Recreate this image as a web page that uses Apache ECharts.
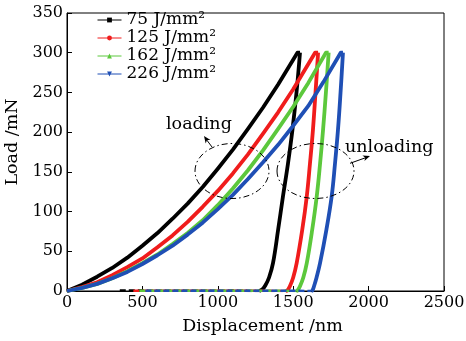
<!DOCTYPE html>
<html>
<head>
<meta charset="utf-8">
<script src="https://cdn.jsdelivr.net/npm/echarts@6/dist/echarts.min.js"></script>
<style>
	html, body { margin: 0; padding: 0; background: #fff; }
	#chart { width: 466px; height: 341px; }
</style>
</head>
<body>
<div id="chart"></div>
<script>
// energy densities (legend)
const energyNames = ["75 J/mm²", "125 J/mm²", "162 J/mm²", "226 J/mm²"];

// x ticks / y ticks
const xTicks = [0, 500, 1000, 1500, 2000, 2500];
const yTicks = [0, 50, 100, 150, 200, 250, 300, 350];

// loading branches [displacement nm, load mN]
const load75 = [[0, 0], [100, 8], [200, 18], [300, 29], [400, 42], [500, 57], [600, 73], [700, 91], [800, 110], [900, 131], [1000, 154], [1100, 178], [1200, 204], [1300, 231], [1400, 260], [1528, 300], [1545, 300]];
const load125 = [[0, 0], [100, 5], [200, 11], [300, 20], [400, 30], [500, 41], [600, 55], [700, 70], [800, 87], [900, 106], [1000, 126], [1100, 148], [1200, 172], [1300, 198], [1400, 225], [1500, 254], [1645, 300], [1665, 300]];
const load162 = [[0, 0], [100, 4], [200, 9], [300, 16], [400, 25], [500, 35], [600, 46], [700, 59], [800, 73], [900, 89], [1000, 108], [1100, 129], [1200, 152], [1300, 177], [1400, 204], [1500, 232], [1600, 262], [1717, 300], [1735, 300]];
const load226 = [[0, 0], [100, 4], [200, 9], [300, 16], [400, 24], [500, 34], [600, 45], [700, 57], [800, 71], [900, 86], [1000, 103], [1100, 121], [1200, 141], [1300, 162], [1400, 184], [1500, 208], [1600, 233], [1700, 263], [1815, 300], [1830, 300]];

// unloading branches
const unload75 = [[1545, 300], [1522, 250], [1495, 203], [1465, 160], [1432, 119], [1400, 77], [1366, 35], [1340, 17], [1315, 7], [1295, 2], [1275, 0]];
const unload125 = [[1665, 300], [1648, 250], [1631, 203], [1611, 160], [1590, 119], [1560, 77], [1523, 35], [1500, 17], [1478, 6], [1462, 1], [1450, 0]];
const unload162 = [[1735, 300], [1717, 250], [1698, 203], [1678, 160], [1656, 119], [1626, 77], [1590, 35], [1567, 17], [1545, 6], [1530, 1], [1520, 0]];
const unload226 = [[1830, 300], [1814, 250], [1797, 203], [1777, 160], [1755, 119], [1720, 77], [1678, 35], [1655, 17], [1638, 6], [1628, 1], [1620, 0]];

// tip retraction at zero load
const zero75 = [[350, 0.5], [500, 0.5], [700, 0.3], [900, 0.3], [1100, 0.5], [1275, 0]];
const zero125 = [[440, 0.3], [700, 0.3], [1000, 0.3], [1300, 0.3], [1450, 0]];
const zero162 = [[480, 0.3], [800, 0.3], [1100, 0.3], [1400, 0.3], [1520, 0]];
const zero226 = [[520, 0.3], [900, 0.3], [1200, 0.3], [1500, 0.3], [1620, 0]];

const loadings = [load75, load125, load162, load226];
const unloadings = [unload75, unload125, unload162, unload226];
const zeros = [zero75, zero125, zero162, zero226];

const colors = ["#000000", "#f01c1c", "#5cc83c", "#1f4fb5"];
const symbols = ["rect", "circle", "triangle", "triangle"];
const rotates = [0, 0, 0, 180];
const FONT = "DejaVu Serif";

const chart = echarts.init(document.getElementById("chart"));

function makeSeries() {
	const out = [];
	energyNames.forEach((name, i) => {
		const base = {
			name,
			type: "line",
			symbol: symbols[i],
			symbolRotate: rotates[i],
			symbolSize: 5,
			showSymbol: false,
			silent: true,
			animation: false,
			itemStyle: { color: colors[i] },
			lineStyle: { color: colors[i], width: 3.8, join: "round" },
			z: 2 + i
		};
		out.push({ ...base, data: loadings[i], smooth: false });
		out.push({ ...base, data: unloadings[i], smooth: 0.4 });
		out.push({ ...base, data: zeros[i], lineStyle: { color: colors[i], width: 2.5, type: [6, 3] } });
	});
	return out;
}

const dashDot = [6, 3, 1.5, 3];

const option = {
	animation: false,
	grid: {
		left: 67, right: 22, top: 13, bottom: 50,
		outerBoundsMode: "none",
		show: true, borderColor: "#000", borderWidth: 1
	},
	legend: {
		data: energyNames,
		orient: "vertical",
		left: 92,
		top: 6,
		itemWidth: 24,
		itemHeight: 6,
		itemGap: 0,
		selectedMode: false,
		lineStyle: { width: 1 },
		textStyle: { fontFamily: FONT, fontSize: 17, color: "#000", lineHeight: 18, height: 18 }
	},
	xAxis: {
		type: "value",
		min: xTicks[0],
		max: xTicks[xTicks.length - 1],
		interval: 500,
		name: "Displacement /nm",
		nameLocation: "middle",
		nameGap: 26,
		nameTextStyle: { fontFamily: FONT, fontSize: 17.5, color: "#000", padding: [0, 0, 0, 14] },
		axisLine: { lineStyle: { color: "#000", width: 1 } },
		axisTick: { inside: true, length: 5, lineStyle: { color: "#000" } },
		axisLabel: { fontFamily: FONT, fontSize: 16, color: "#000", margin: 4, formatter: v => String(v) },
		splitLine: { show: false }
	},
	yAxis: {
		type: "value",
		min: yTicks[0],
		max: yTicks[yTicks.length - 1],
		interval: 50,
		name: "Load /mN",
		nameLocation: "middle",
		nameGap: 44,
		nameTextStyle: { fontFamily: FONT, fontSize: 17.5, color: "#000", padding: [0, 0, 0, 20] },
		axisLine: { lineStyle: { color: "#000", width: 1 } },
		axisTick: { inside: true, length: 5, lineStyle: { color: "#000" } },
		axisLabel: { fontFamily: FONT, fontSize: 16, color: "#000", margin: 4, formatter: v => String(v) },
		splitLine: { show: false }
	},
	graphic: [
		{ type: "ellipse", shape: { cx: 232, cy: 171, rx: 37, ry: 27.5 }, style: { fill: "none", stroke: "#000", lineWidth: 1, lineDash: dashDot }, z: 10 },
		{ type: "ellipse", shape: { cx: 315.5, cy: 171, rx: 38.5, ry: 27.5 }, style: { fill: "none", stroke: "#000", lineWidth: 1, lineDash: dashDot }, z: 10 },
		{ type: "line", shape: { x1: 212, y1: 147, x2: 206, y2: 139 }, style: { stroke: "#000", lineWidth: 1 }, z: 10 },
		{ type: "polygon", shape: { points: [[204, 136], [210.5, 139.9], [207, 140], [205.7, 143.5]] }, style: { fill: "#000" }, z: 10 },
		{ type: "line", shape: { x1: 350, y1: 163.3, x2: 366, y2: 157.6 }, style: { stroke: "#000", lineWidth: 1 }, z: 10 },
		{ type: "polygon", shape: { points: [[370, 156], [364.4, 161.1], [365.3, 157.7], [362.4, 155.5]] }, style: { fill: "#000" }, z: 10 },
		{ type: "text", left: 166, top: 115, style: { text: "loading", font: "17.5px '" + FONT + "'", fill: "#000" }, z: 10 },
		{ type: "text", left: 345, top: 138, style: { text: "unloading", font: "17.5px '" + FONT + "'", fill: "#000" }, z: 10 }
	],
	series: makeSeries()
};

chart.setOption(option);
</script>
</body>
</html>
